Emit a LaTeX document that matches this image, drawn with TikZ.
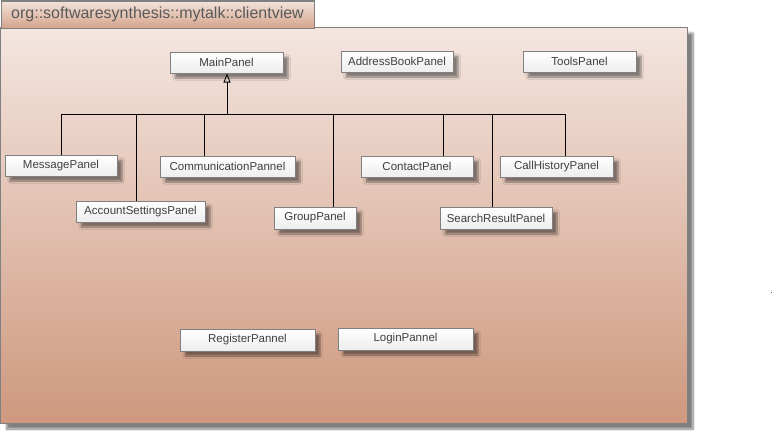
\documentclass[tikz,border=0pt]{standalone}
\usepackage{fontspec}
\setmainfont{Liberation Sans}
\usetikzlibrary{shadows.blur,arrows.meta}
\definecolor{pkgtop}{HTML}{F4E6E0}
\definecolor{pkgbot}{HTML}{CE987E}
\definecolor{tabtop}{HTML}{F2E2DA}
\definecolor{tabbot}{HTML}{D5A48C}
\definecolor{edge}{HTML}{808080}
\definecolor{txt}{HTML}{404040}
\tikzset{
  classbox/.style={draw=edge, line width=1pt, top color=white, bottom color=black!7,
    inner sep=0pt, text=txt, font=\fontsize{11.5}{12}\selectfont,
    blur shadow={shadow xshift=5pt, shadow yshift=-5pt, shadow blur steps=6, shadow opacity=45}},
  wire/.style={line width=1pt, black},
}
\begin{document}
\begin{tikzpicture}[x=1pt,y=-1pt]
\useasboundingbox (0,0) rectangle (779,439);
% package body
\path[draw=edge, line width=1pt, top color=pkgtop, bottom color=pkgbot,
  blur shadow={shadow xshift=6pt, shadow yshift=-6pt, shadow blur steps=8, shadow opacity=50}]
  (0.5,27) rectangle (687,423);
% tab
\node[draw=edge, line width=1pt, top color=tabtop, bottom color=tabbot, inner sep=0pt,
  minimum width=313pt, minimum height=27pt, anchor=north west, text=black!65,
  font=\fontsize{16}{18}\selectfont] (tab) at (0.5,0.5) {org::softwaresynthesis::mytalk::clientview};
% classes
\node[classbox, minimum width=113pt, minimum height=21pt] (MainPanel) at (226.5,62.5) {MainPanel};
\node[classbox, minimum width=112pt, minimum height=21pt] (AddressBookPanel) at (397,61.5) {AddressBookPanel};
\node[classbox, minimum width=113pt, minimum height=21pt] (ToolsPanel) at (579.5,61.5) {ToolsPanel};
\node[classbox, minimum width=112pt, minimum height=21pt] (MessagePanel) at (61,165.5) {MessagePanel};
\node[classbox, minimum width=129pt, minimum height=21pt] (AccountSettingsPanel) at (140.5,211.5) {AccountSettingsPanel};
\node[classbox, minimum width=135pt, minimum height=21pt] (CommunicationPannel) at (227.5,166.5) {CommunicationPannel};
\node[classbox, minimum width=82pt, minimum height=22pt] (GroupPanel) at (315,218) {GroupPanel};
\node[classbox, minimum width=112pt, minimum height=21pt] (ContactPanel) at (417,166.5) {ContactPanel};
\node[classbox, minimum width=112pt, minimum height=22pt] (SearchResultPanel) at (496,218) {SearchResultPanel};
\node[classbox, minimum width=113pt, minimum height=21pt] (CallHistoryPanel) at (556.5,166.5) {CallHistoryPanel};
\node[classbox, minimum width=135pt, minimum height=22pt] (RegisterPannel) at (247.5,340) {RegisterPannel};
\node[classbox, minimum width=135pt, minimum height=22pt] (LoginPannel) at (405.5,339) {LoginPannel};
% bus coordinates
\coordinate (b1) at (61,114);
\coordinate (b2) at (136,114);
\coordinate (b3) at (204,114);
\coordinate (bm) at (227,114);
\coordinate (b4) at (333,114);
\coordinate (b5) at (443,114);
\coordinate (b6) at (492,114);
\coordinate (b7) at (565,114);
\draw[wire] (b1) -- (b7);
\draw[wire, -{Triangle[open, width=7pt, length=9pt, line width=0.8pt]}] (bm) -- (bm |- MainPanel.south);
\draw[wire] (b1) -- (b1 |- MessagePanel.north);
\draw[wire] (b2) -- (b2 |- AccountSettingsPanel.north);
\draw[wire] (b3) -- (b3 |- CommunicationPannel.north);
\draw[wire] (b4) -- (b4 |- GroupPanel.north);
\draw[wire] (b5) -- (b5 |- ContactPanel.north);
\draw[wire] (b6) -- (b6 |- SearchResultPanel.north);
\draw[wire] (b7) -- (b7 |- CallHistoryPanel.north);
% stray dot
\fill[black!70] (771,291.5) rectangle (772,292.5);
\end{tikzpicture}
\end{document}
